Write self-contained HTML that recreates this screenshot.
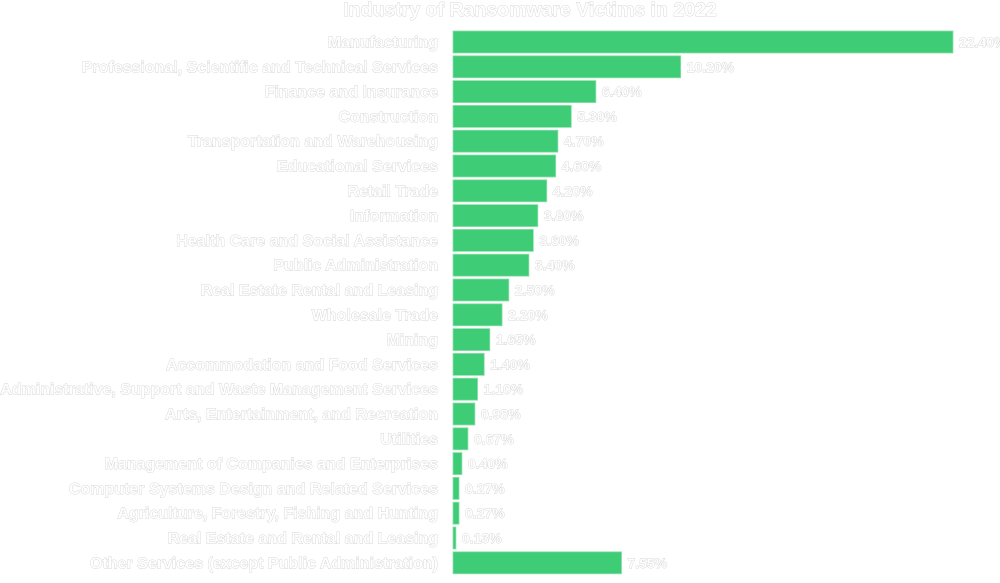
<!DOCTYPE html>
<html><head><meta charset="utf-8"><style>
body{margin:0;background:#fff;width:1000px;height:578px;overflow:hidden;font-family:"Liberation Sans",sans-serif}
svg text{fill:#fff;stroke:#c8c8c8;stroke-width:0.7px;paint-order:stroke;font-weight:bold}
</style></head><body>
<svg id="chart" width="1000" height="578">
<text x="530" y="16" text-anchor="middle" font-size="19.5">Industry of Ransomware Victims in 2022</text>
</svg>
<script>
const categories=["Manufacturing","Professional, Scientific and Technical Services","Finance and Insurance","Construction","Transportation and Warehousing","Educational Services","Retail Trade","Information","Health Care and Social Assistance","Public Administration","Real Estate Rental and Leasing","Wholesale Trade","Mining","Accommodation and Food Services","Administrative, Support and Waste Management Services","Arts, Entertainment, and Recreation","Utilities","Management of Companies and Enterprises","Computer Systems Design and Related Services","Agriculture, Forestry, Fishing and Hunting","Real Estate and Rental and Leasing","Other Services (except Public Administration)"];
const values=[22.4,10.2,6.4,5.3,4.7,4.6,4.2,3.8,3.6,3.4,2.5,2.2,1.65,1.4,1.1,0.98,0.67,0.4,0.27,0.27,0.13,7.55];
const labels=values.map(v=>v.toFixed(2)+"%");
const svg=document.getElementById('chart');
const NS="http://www.w3.org/2000/svg";
const x0=453,xScale=v=>v*(500/22.4);
const yTop=31,step=24.8,bh=22;
const y=i=>yTop+i*step;
categories.forEach((c,i)=>{
 const r=document.createElementNS(NS,'rect');
 r.setAttribute('x',x0);r.setAttribute('y',y(i));
 r.setAttribute('width',Math.max(1,xScale(values[i])));r.setAttribute('height',bh);
 r.setAttribute('fill','#3ecc76');r.setAttribute('stroke','#8ee0ac');r.setAttribute('stroke-width','0.8');
 
 
 svg.appendChild(r);
 const t=document.createElementNS(NS,'text');
 t.setAttribute('x',438);t.setAttribute('y',y(i)+bh/2+5.5);t.setAttribute('text-anchor','end');t.setAttribute('font-size','16');
 t.textContent=c;
 
 
 svg.appendChild(t);
 const v=document.createElementNS(NS,'text');
 v.setAttribute('x',x0+xScale(values[i])+6);v.setAttribute('y',y(i)+bh/2+5);v.setAttribute('font-size','14');
 v.textContent=labels[i];
 
 
 svg.appendChild(v);
});
</script>
</body></html>
